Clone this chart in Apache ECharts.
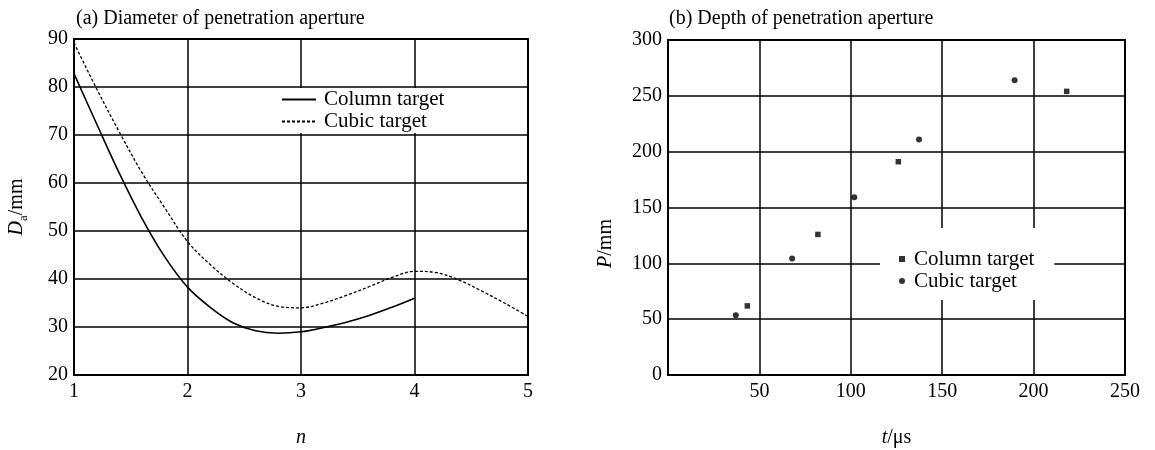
<!DOCTYPE html>
<html><head><meta charset="utf-8">
<script src="https://cdn.jsdelivr.net/npm/echarts@6/dist/echarts.min.js"></script>
<style>html,body{margin:0;padding:0;background:#fff}#c{width:1155px;height:450px}</style>
</head><body><div id="c"></div>
<script>
// (a) Diameter of penetration aperture
const nColumn = [1, 1.2, 1.4, 1.6, 1.8, 2, 2.2, 2.4, 2.6, 2.8, 3, 3.2, 3.4, 3.6, 3.8, 4];
const daColumn = [82.8, 72.3, 62.0, 52.6, 44.6, 38.3, 34.1, 30.9, 29.2, 28.7, 29.0, 29.9, 31.0, 32.4, 34.1, 36.0];
const nCubic = [1, 1.2, 1.4, 1.6, 1.8, 2, 2.2, 2.4, 2.6, 2.8, 3, 3.2, 3.4, 3.6, 3.8, 4, 4.2, 4.4, 4.6, 4.8, 5];
const daCubic = [89.2, 79.6, 70.6, 62.1, 54.8, 47.8, 43.0, 39.1, 36.1, 34.3, 34.0, 35.0, 36.6, 38.4, 40.3, 41.6, 41.3, 39.7, 37.4, 34.9, 32.2];
// (b) Depth of penetration aperture
const tColumn = [43.4, 82.0, 126.0, 218.1];
const pColumn = [61.9, 125.9, 191.0, 254.0];
const tCubic = [37.1, 67.9, 101.9, 137.3, 189.6];
const pCubic = [53.6, 104.4, 159.1, 211.0, 263.9];
// axis ranges / ticks
const xTicksA = [1, 2, 3, 4, 5];
const yTicksA = [20, 30, 40, 50, 60, 70, 80, 90];
const xTicksB = [0, 50, 100, 150, 200, 250];
const yTicksB = [0, 50, 100, 150, 200, 250, 300];
const seriesNames = ['Column target', 'Cubic target'];
const titles = ['(a) Diameter of penetration aperture', '(b) Depth of penetration aperture'];

const FONT = 'Liberation Serif';
const pair = (xs, ys) => xs.map((x, i) => [x, ys[i]]);
const rangeOf = t => ({min: t[0], max: t[t.length - 1], interval: t[1] - t[0]});

const gridLine = {show: true, lineStyle: {color: '#000', width: 1.5}};
const label = {color: '#000', fontFamily: FONT, fontSize: 20};
const nameStyle = {
  color: '#000', fontFamily: FONT, fontSize: 20, lineHeight: 26,
  rich: {
    i: {fontFamily: FONT, fontSize: 20, fontStyle: 'italic', color: '#000', lineHeight: 26},
    s: {fontFamily: FONT, fontSize: 13, color: '#000', lineHeight: 13, verticalAlign: 'bottom'}
  }
};
function xAxis(idx, ticks, name, hideMin) {
  return Object.assign({
    type: 'value', gridIndex: idx,
    axisLine: {show: true, onZero: false, lineStyle: {color: '#000', width: 2}},
    axisTick: {show: false},
    axisLabel: Object.assign({margin: 7, showMinLabel: !hideMin}, label),
    splitLine: gridLine,
    name: name, nameLocation: 'middle', nameGap: 50, nameTextStyle: nameStyle
  }, rangeOf(ticks));
}
function yAxis(idx, ticks, name, gap, pad) {
  return Object.assign({
    type: 'value', gridIndex: idx,
    axisLine: {show: true, onZero: false, lineStyle: {color: '#000', width: 2}},
    axisTick: {show: false},
    axisLabel: Object.assign({margin: 6}, label),
    splitLine: gridLine,
    name: name, nameLocation: 'middle', nameGap: gap,
    nameTextStyle: Object.assign({padding: pad}, nameStyle)
  }, rangeOf(ticks));
}

const chart = echarts.init(document.getElementById('c'), null, {renderer: 'canvas'});
chart.setOption({
  animation: false,
  backgroundColor: '#fff',
  title: [
    {text: titles[0], left: 71, top: 4, textStyle: {fontFamily: FONT, fontSize: 20, fontWeight: 'normal', color: '#000'}},
    {text: titles[1], left: 664, top: 4, textStyle: {fontFamily: FONT, fontSize: 20, fontWeight: 'normal', color: '#000'}}
  ],
  grid: [
    {left: 74, right: 627, top: 39, bottom: 75, show: true, borderColor: '#000', borderWidth: 2, outerBoundsMode: 'none', containLabel: false},
    {left: 668, right: 30, top: 40, bottom: 75, show: true, borderColor: '#000', borderWidth: 2, outerBoundsMode: 'none', containLabel: false}
  ],
  xAxis: [
    xAxis(0, xTicksA, '{i|n}', false),
    xAxis(1, xTicksB, '{i|t}/μs', true)
  ],
  yAxis: [
    yAxis(0, yTicksA, '{i|D}{s|a}/mm', 44, [0, 0, 0, 0]),
    yAxis(1, yTicksB, '{i|P}/mm', 49, [0, 72, 0, 0])
  ],
  legend: [
    {
      data: seriesNames, orient: 'vertical', left: 278, top: 88,
      backgroundColor: '#fff', padding: [1, 8, 1, 3],
      itemWidth: 34, itemHeight: 14, itemGap: 1,
      itemStyle: {opacity: 0},
      textStyle: {fontFamily: FONT, fontSize: 21, color: '#000', lineHeight: 21, padding: [0, 0, 0, 3]}
    },
    {
      data: [{name: seriesNames[0] + ' (b)', icon: 'rect'}, {name: seriesNames[1] + ' (b)', icon: 'circle'}],
      formatter: n => n.replace(' (b)', ''),
      orient: 'vertical', left: 880, top: 228,
      backgroundColor: '#fff', padding: [20, 20, 8, 19],
      itemWidth: 6, itemHeight: 6, itemGap: 0,
      textStyle: {fontFamily: FONT, fontSize: 21, color: '#000', lineHeight: 22, padding: [0, 0, 0, 4]}
    }
  ],
  series: [
    {
      name: seriesNames[0], type: 'line', xAxisIndex: 0, yAxisIndex: 0,
      data: pair(nColumn, daColumn), smooth: 0.35, symbol: 'none',
      lineStyle: {color: '#000', width: 1.6}, itemStyle: {color: '#000'}, z: 3
    },
    {
      name: seriesNames[1], type: 'line', xAxisIndex: 0, yAxisIndex: 0,
      data: pair(nCubic, daCubic), smooth: 0.35, symbol: 'none',
      lineStyle: {color: '#000', width: 1.3, type: [3, 2]}, itemStyle: {color: '#000'}, z: 3
    },
    {
      name: seriesNames[0] + ' (b)', type: 'scatter', xAxisIndex: 1, yAxisIndex: 1,
      data: pair(tColumn, pColumn), symbol: 'rect', symbolSize: 5.5,
      itemStyle: {color: '#000'}
    },
    {
      name: seriesNames[1] + ' (b)', type: 'scatter', xAxisIndex: 1, yAxisIndex: 1,
      data: pair(tCubic, pCubic), symbol: 'circle', symbolSize: 6,
      itemStyle: {color: '#000'}
    }
  ]
});
</script>
</body></html>
